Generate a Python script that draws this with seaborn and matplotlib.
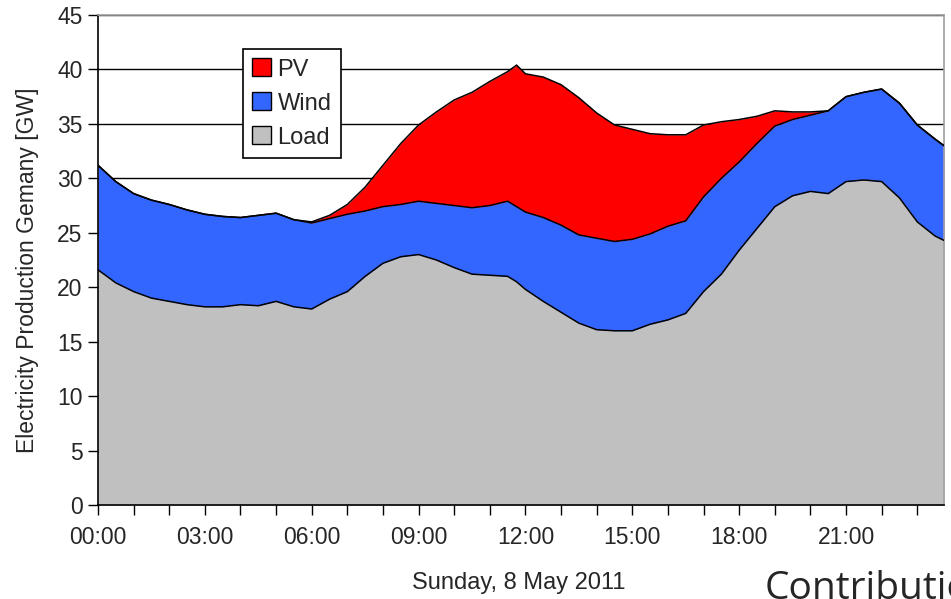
import numpy as np
import seaborn as sns
import matplotlib.pyplot as plt
from matplotlib.patches import Patch
from matplotlib.ticker import MultipleLocator

# time of day in hours (half-hourly, plus a couple of extra samples)
times = [0.0, 0.5, 1.0, 1.5, 2.0, 2.5, 3.0, 3.5, 4.0, 4.5, 5.0, 5.5,
         6.0, 6.5, 7.0, 7.5, 8.0, 8.5, 9.0, 9.5, 10.0, 10.5, 11.0, 11.5, 11.75,
         12.0, 12.5, 13.0, 13.5, 14.0, 14.5, 15.0, 15.5, 16.0, 16.5, 17.0, 17.5,
         18.0, 18.5, 19.0, 19.5, 20.0, 20.5, 21.0, 21.5, 22.0, 22.5, 23.0, 23.5, 23.75]

# stacked layers in GW
load = [21.6, 20.4, 19.6, 19.0, 18.7, 18.4, 18.2, 18.2, 18.4, 18.3, 18.7, 18.2,
        18.0, 18.9, 19.6, 21.0, 22.2, 22.8, 23.0, 22.5, 21.8, 21.2, 21.1, 21.0, 20.5,
        19.8, 18.7, 17.7, 16.7, 16.1, 16.0, 16.0, 16.6, 17.0, 17.6, 19.6, 21.2,
        23.4, 25.4, 27.4, 28.4, 28.8, 28.6, 29.7, 29.85, 29.7, 28.2, 26.0, 24.7, 24.3]
wind = [9.6, 9.3, 9.0, 9.0, 8.9, 8.7, 8.5, 8.3, 8.0, 8.3, 8.1, 8.0,
        7.9, 7.4, 7.1, 6.0, 5.2, 4.8, 4.9, 5.2, 5.7, 6.1, 6.4, 6.9, 6.9,
        7.1, 7.7, 8.0, 8.1, 8.4, 8.2, 8.4, 8.3, 8.6, 8.5, 8.7, 8.8,
        8.1, 7.8, 7.4, 7.0, 7.0, 7.6, 7.8, 8.05, 8.5, 8.7, 8.9, 8.9, 8.7]
pv = [0, 0, 0, 0, 0, 0, 0, 0, 0, 0, 0, 0,
      0.1, 0.3, 0.9, 2.2, 3.8, 5.6, 7.0, 8.4, 9.7, 10.6, 11.4, 11.9, 13.0,
      12.7, 12.9, 12.9, 12.6, 11.5, 10.7, 10.1, 9.2, 8.4, 7.9, 6.6, 5.2,
      3.9, 2.5, 1.4, 0.7, 0.3, 0, 0, 0, 0, 0, 0, 0, 0]

hour_labels = ["00:00", "03:00", "06:00", "09:00", "12:00", "15:00", "18:00", "21:00"]
colors = {"Load": "#c0c0c0", "Wind": "#3366ff", "PV": "#ff0000"}

sns.set_style("white")
plt.rcParams["font.family"] = ["Liberation Sans", "DejaVu Sans"]

fig = plt.figure(figsize=(9.51, 5.99), dpi=100)
ax = fig.add_axes([98 / 951, 1 - 505 / 599, (944 - 98) / 951, (505 - 15) / 599])

ax.stackplot(times, load, wind, pv,
             colors=[colors["Load"], colors["Wind"], colors["PV"]], lw=0, zorder=2)

# black outlines on the layer tops
l1 = np.array(load)
l2 = l1 + np.array(wind)
l3 = l2 + np.array(pv)
for top in [l1, l2, l3]:
    sns.lineplot(x=times, y=top, color="black", lw=1.1, ax=ax, zorder=3)

ax.set_xlim(0, 23.75)
ax.set_ylim(0, 45)
ax.yaxis.set_major_locator(MultipleLocator(5))
ax.set_xticks([0, 3, 6, 9, 12, 15, 18, 21])
ax.set_xticklabels(hour_labels)
ax.xaxis.set_minor_locator(MultipleLocator(1))

ax.grid(axis="y", color="black", lw=1.0, zorder=0)
ax.set_axisbelow(True)

ax.tick_params(axis="both", which="both", direction="out", length=7, width=1,
               color="black", labelsize=16.5, bottom=True, left=True)
ax.tick_params(axis="x", pad=8)
ax.tick_params(axis="y", pad=4)

for side in ["left", "bottom"]:
    ax.spines[side].set_color("black")
    ax.spines[side].set_linewidth(1.2)
for side in ["top", "right"]:
    ax.spines[side].set_color("#a0a0a0")
    ax.spines[side].set_linewidth(1.2)

ax.set_ylabel("Electricity Production Gemany [GW]", fontsize=16.5)
ax.yaxis.set_label_coords(-0.070, 0.48)

handles = [Patch(facecolor=colors[k], edgecolor="black", lw=1) for k in ["PV", "Wind", "Load"]]
leg = ax.legend(handles, ["PV", "Wind", "Load"], loc="upper left",
                bbox_to_anchor=(0.171, 0.93), fontsize=17, frameon=True,
                fancybox=False, edgecolor="black", framealpha=1,
                handlelength=0.8, handleheight=0.8, handletextpad=0.3,
                borderpad=0.38, labelspacing=0.5, borderaxespad=0)
leg.get_frame().set_linewidth(1.2)
leg.set_zorder(5)

fig.text(519 / 951, 1 - 583 / 599, "Sunday, 8 May 2011", ha="center", va="center",
         fontsize=17)
fig.text(765 / 951, 1 - 570 / 599, "Contribution", ha="left", va="top",
         fontsize=28, family=["Open Sans", "DejaVu Sans"])

plt.savefig("out.png", dpi=100)
plt.close()
